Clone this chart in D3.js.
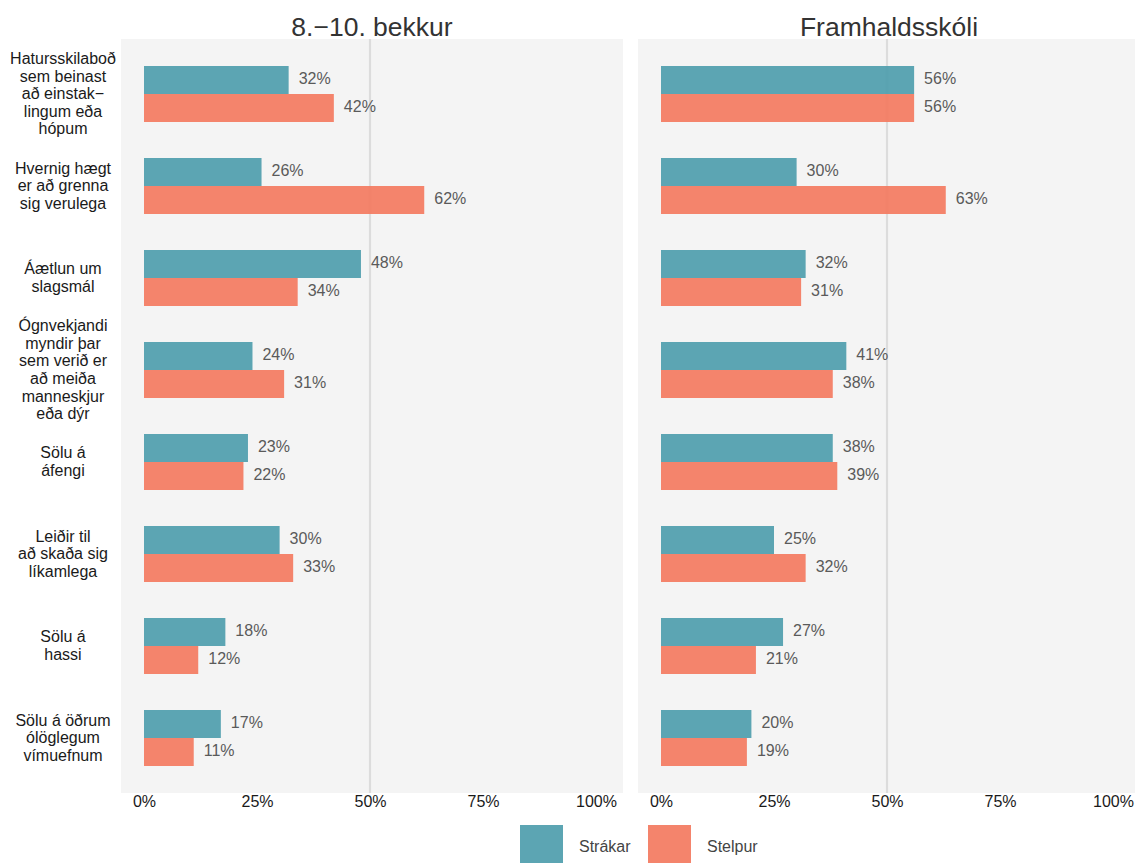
<!DOCTYPE html>
<html><head><meta charset="utf-8">
<script src="https://cdn.jsdelivr.net/npm/d3@7"></script>
<style>body{margin:0;background:#fff;} svg{display:block;font-family:"Liberation Sans",Arial,sans-serif;}</style>
</head><body><div id="chart"></div>
<script>
const categories = [
  ["Hatursskilaboð","sem beinast","að einstak−","lingum eða","hópum"],
  ["Hvernig hægt","er að grenna","sig verulega"],
  ["Áætlun um","slagsmál"],
  ["Ógnvekjandi","myndir þar","sem verið er","að meiða","manneskjur","eða dýr"],
  ["Sölu á","áfengi"],
  ["Leiðir til","að skaða sig","líkamlega"],
  ["Sölu á","hassi"],
  ["Sölu á öðrum","ólöglegum","vímuefnum"]
];
const panels = ["8.−10. bekkur", "Framhaldsskóli"];
const seriesNames = ["Strákar", "Stelpur"];
const grunnStrakar = [32, 26, 48, 24, 23, 30, 18, 17];
const grunnStelpur = [42, 62, 34, 31, 22, 33, 12, 11];
const frhStrakar = [56, 30, 32, 41, 38, 25, 27, 20];
const frhStelpur = [56, 63, 31, 38, 39, 32, 21, 19];
const xTicks = [0, 25, 50, 75, 100];
const xTickLabels = ["0%", "25%", "50%", "75%", "100%"];

const panelData = [[grunnStrakar, grunnStelpur], [frhStrakar, frhStelpur]];
const colors = ["#4e9dac", "#f37a60"];

const W = 1135, H = 863;
const svg = d3.select("#chart").append("svg").attr("width", W).attr("height", H);

const panelLeft = [121, 638];
const panelW = 502;
const pTop = 39, pBottom = 793;

const y = d3.scaleBand().domain(d3.range(categories.length)).range([pTop, pBottom]).paddingInner(0.3913).paddingOuter(0.2935);
const inner = d3.scaleBand().domain([0, 1]).range([0, y.bandwidth()]);

// category labels
const labG = svg.append("g");
categories.forEach((lines, i) => {
  const cy = y(i) + y.bandwidth() / 2;
  const lh = 17.6;
  const t = labG.append("text").attr("text-anchor", "middle").attr("font-size", 16).attr("fill", "#1a1a1a");
  lines.forEach((ln, j) => {
    t.append("tspan").attr("x", 63).attr("y", cy + (j - (lines.length - 1) / 2) * lh).attr("dy", "0.33em").text(ln);
  });
});

panels.forEach((title, p) => {
  const x0 = panelLeft[p];
  const x = d3.scaleLinear().domain([0, 100]).range([x0 + 23, x0 + 23 + 452]);
  const g = svg.append("g");
  g.append("rect").attr("x", x0).attr("y", pTop).attr("width", panelW).attr("height", pBottom - pTop).attr("fill", "#f4f4f4");
  g.append("line").attr("x1", x(50)).attr("x2", x(50)).attr("y1", pTop).attr("y2", pBottom).attr("stroke", "#dcdcdc").attr("stroke-width", 2.2);
  svg.append("text").attr("x", x0 + panelW / 2).attr("y", 36).attr("text-anchor", "middle").attr("font-size", 26.5).attr("fill", "#333").text(title);

  panelData[p].forEach((vals, s) => {
    g.selectAll(null).data(vals).enter().append("rect")
      .attr("x", x(0)).attr("y", (d, i) => y(i) + inner(s))
      .attr("width", d => x(d) - x(0)).attr("height", inner.bandwidth())
      .attr("fill", colors[s]).attr("fill-opacity", 0.92);
    g.selectAll(null).data(vals).enter().append("text")
      .attr("x", d => x(d) + 10).attr("y", (d, i) => y(i) + inner(s) + inner.bandwidth() / 2)
      .attr("dy", "0.28em").attr("font-size", 16).attr("fill", "#5a5a5a")
      .text(d => d + "%");
  });

  const axis = d3.axisBottom(x).tickValues(xTicks).tickFormat((d, i) => xTickLabels[i]).tickSize(0).tickPadding(3);
  const ag = svg.append("g").attr("transform", `translate(0,${pBottom})`).call(axis);
  ag.select(".domain").remove();
  ag.selectAll("text").attr("font-size", 16).attr("fill", "#1a1a1a").attr("font-family", "Liberation Sans, Arial, sans-serif");
});

// legend
const legX = [520, 648];
seriesNames.forEach((n, i) => {
  svg.append("rect").attr("x", legX[i]).attr("y", 825).attr("width", 43).attr("height", 40).attr("fill", colors[i]).attr("fill-opacity", 0.92);
  svg.append("text").attr("x", legX[i] + 59).attr("y", 846).attr("dy", "0.35em").attr("font-size", 16).attr("fill", "#444").text(n);
});
</script></body></html>
